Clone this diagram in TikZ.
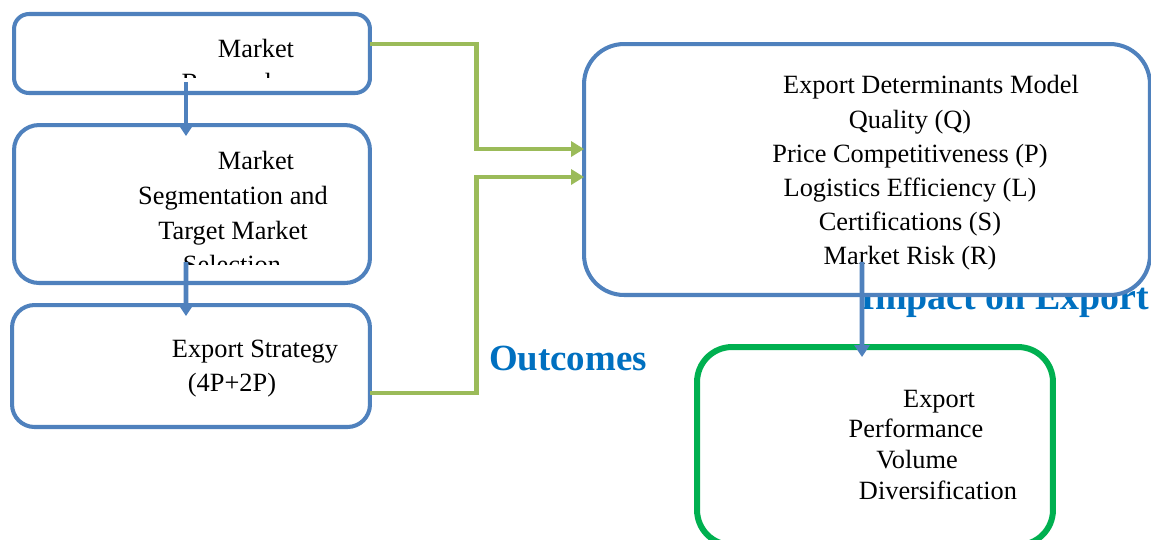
\documentclass[tikz,border=0pt]{standalone}
\usepackage{fontspec}
\setmainfont{Liberation Serif}
\usetikzlibrary{arrows.meta,positioning}
\definecolor{boxblue}{RGB}{79,129,189}
\definecolor{feedgreen}{RGB}{155,187,89}
\definecolor{resgreen}{RGB}{0,176,80}
\definecolor{headblue}{RGB}{0,112,192}
\tikzset{
  stage/.style={draw=boxblue,line width=2.3pt,rectangle,rounded corners=#1,inner sep=0pt,outer sep=0pt,fill=white},
  stage/.default=0.4cm,
  result/.style={draw=resgreen,line width=3.4pt,rectangle,rounded corners=0.7cm,inner sep=0pt,outer sep=0pt,fill=white},
  txt/.style={anchor=base,inner sep=0pt,font=\fontsize{15}{18}\selectfont},
  head/.style={anchor=base,inner sep=0pt,text=headblue,font=\fontsize{21}{24}\selectfont\bfseries},
  flow/.style={draw=boxblue,line width=2.8pt,-{Triangle[width=0.3cm,length=0.24cm]}},
  feed/.style={draw=feedgreen,line width=2.8pt,-{Triangle[width=0.3cm,length=0.26cm]}}
}
\begin{document}
\begin{tikzpicture}[x=0.02cm,y=-0.02cm]
\useasboundingbox (0,0) rectangle (1151,539);

% labels that sit behind the boxes
\node[head,anchor=base west,font=\fontsize{21.6}{24}\selectfont\bfseries] (impact) at (860,309) {Impact on Export};
\node[head] (outcomes) at (568,370) {Outcomes};

% left column
\node[stage=0.3cm,minimum width=7.12cm,minimum height=1.58cm] (research) at (192,53.5) {};
\node[stage=0.5cm,minimum width=7.12cm,minimum height=3.16cm] (segment) at (192,204) {};
\node[stage=0.45cm,minimum width=7.16cm,minimum height=2.44cm] (strategy) at (191,366) {};

% right column
\node[stage=0.8cm,minimum width=11.32cm,minimum height=5.02cm] (model) at (867,169.5) {};
\node[result,minimum width=7.12cm,minimum height=3.96cm] (perform) at (875,446) {};

% texts
\node[txt] (r1) at (256,57) {Market};
\begin{scope}
\clip (20,20) rectangle (360,77);
\node[txt] (r2) at (230,91) {Research};
\end{scope}
\node[txt] (s1) at (256,169) {Market};
\node[txt] (s2) at (233,204) {Segmentation and};
\node[txt] (s3) at (233,239) {Target Market};
\begin{scope}
\clip (20,130) rectangle (360,264);
\node[txt] (s4) at (232,273) {Selection};
\end{scope}
\node[txt] (e1) at (255,357) {Export Strategy};
\node[txt] (e2) at (232,391) {(4P+2P)};

\node[txt] (m1) at (931,93) {Export Determinants Model};
\node[txt] (m2) at (910,128) {Quality (Q)};
\node[txt] (m3) at (910,162) {Price Competitiveness (P)};
\node[txt] (m4) at (910,196) {Logistics Efficiency (L)};
\node[txt] (m5) at (910,230) {Certifications (S)};
\node[txt] (m6) at (910,264) {Market Risk (R)};

\node[txt] (p1) at (939,407) {Export};
\node[txt] (p2) at (916,437) {Performance};
\node[txt] (p3) at (917,468) {Volume};
\node[txt] (p4) at (938,499) {Diversification};

% connectors
\draw[flow] ([xshift=-0.12cm,yshift=0.22cm]research.south) -- ([xshift=-0.12cm,yshift=-0.22cm]segment.north);
\draw[flow] ([xshift=-0.12cm,yshift=0.42cm]segment.south) -- ([xshift=-0.1cm,yshift=-0.22cm]strategy.north);
\draw[flow] ([xshift=-0.1cm,yshift=0.66cm]model.south) -- ([xshift=-0.26cm,yshift=-0.2cm]perform.north);

\draw[feed] ([yshift=0.19cm]research.east) -| ([xshift=-2.16cm,yshift=0.41cm]model.west) -- ([yshift=0.41cm]model.west);
\draw[feed] ([yshift=-0.54cm]strategy.east) -| ([xshift=-2.16cm,yshift=-0.15cm]model.west) -- ([yshift=-0.15cm]model.west);
\end{tikzpicture}
\end{document}
